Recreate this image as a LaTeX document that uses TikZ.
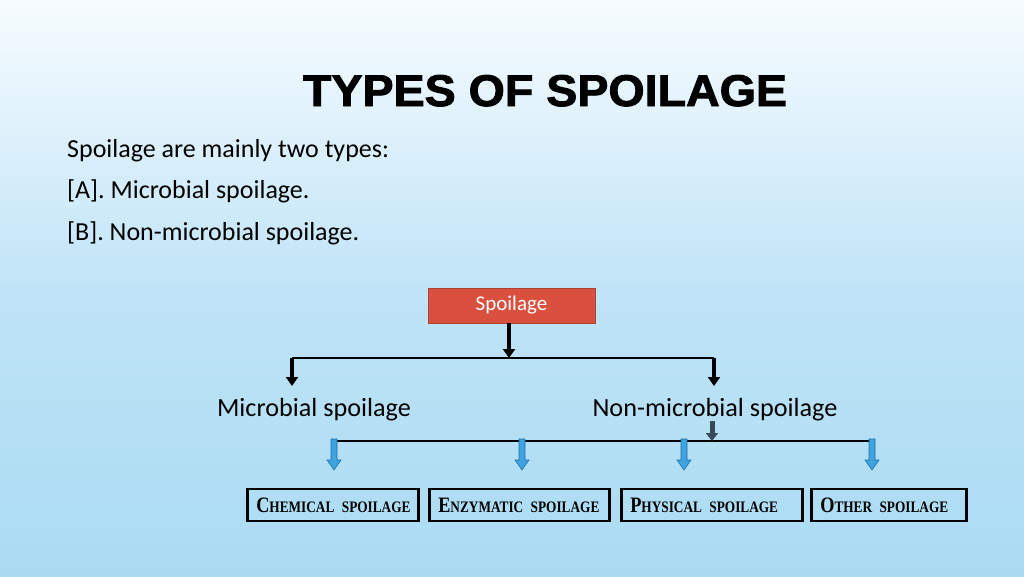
\documentclass[tikz,border=0pt]{standalone}
\usepackage{fontspec}
\setmainfont{Carlito}
\newfontfamily\titlefont{Liberation Sans}[UprightFont={* Bold}, UprightFeatures={FakeBold=2}]
\newfontfamily\boxfont{Liberation Serif}
\usetikzlibrary{arrows.meta}
\definecolor{bgtop}{HTML}{F7FCFF}
\definecolor{bgmid}{HTML}{C0E4F7}
\definecolor{bgbot}{HTML}{AADBF3}
\definecolor{spred}{HTML}{D9503F}
\definecolor{arrowblue}{HTML}{3FA3E0}
\definecolor{arrowedge}{HTML}{1E6FA8}
\definecolor{darkarrow}{HTML}{3A4A55}
\newcommand{\fsc}[3]{{\fontsize{22}{24}\selectfont #1}{\fontsize{16}{18}\selectfont #2\hspace{9pt}SPOILAGE}}
\tikzset{
  body/.style={anchor=base west, inner sep=0pt, font=\fontsize{26}{30}\selectfont, text=black},
  branch/.style={anchor=base, inner sep=0pt, font=\fontsize{26.2}{28}\selectfont, text=black},
  rootbox/.style={fill=spred, draw=spred!80!black, line width=0.5pt, minimum width=167pt, minimum height=35pt, text=white, font=\fontsize{21}{22}\selectfont, inner sep=0pt},
  leafbox/.style={draw=black, line width=2.6pt, minimum height=32pt, inner xsep=9pt, inner ysep=0pt, align=left, font=\boxfont\bfseries, anchor=west},
  blkline/.style={draw=black, line width=2pt},
  blkarrow/.style={draw=black, line width=4pt, -{Triangle[width=12pt,length=9pt]}},
  darkarr/.style={draw=darkarrow, line width=5pt, -{Triangle[width=12pt,length=8pt]}},
  bluearrow/.pic={\draw[fill=arrowblue, draw=arrowedge, line width=0.6pt] (-3,-2) -- (-3,19) -- (-7,19) -- (0,29) -- (7,19) -- (3,19) -- (3,-2) -- cycle;}
}
\begin{document}
\begin{tikzpicture}[x=1pt, y=-1pt]
\shade[top color=bgtop, bottom color=bgbot, middle color=bgmid] (0,0) rectangle (1024,576);
\useasboundingbox (0,0) rectangle (1024,576);

\node[anchor=base, inner sep=0pt] (title) at (545,106) {\resizebox{484pt}{31pt}{\titlefont TYPES OF SPOILAGE}};

\node[body] (l1) at (67,157) {Spoilage are mainly two types:};
\node[body] (l2) at (67,198) {[A]. Microbial spoilage.};
\node[body] (l3) at (67,240) {[B]. Non-microbial spoilage.};

\node[rootbox] (root) at (511.5,305.5) {Spoilage};

\coordinate (tj) at (509,358);
\coordinate (tl) at (292,358);
\coordinate (tr) at (714,358);
\coordinate (tla) at (292,386);
\coordinate (tra) at (714,386);
\draw[blkline] (tl) -- (tr);
\draw[blkarrow] (root.south -| tj) -- (tj);
\draw[blkarrow] (tl) -- (tla);
\draw[blkarrow] (tr) -- (tra);

\node[branch] (mic) at (314,416) {Microbial spoilage};
\node[branch] (non) at (715,416) {Non-microbial spoilage};

\coordinate (bj) at (712,441);
\coordinate (bl) at (334,441);
\coordinate (b2) at (522,441);
\coordinate (b3) at (684,441);
\coordinate (br) at (872,441);
\coordinate (ns) at (712,421);
\draw[blkline] (bl) -- (br);
\draw[darkarr] (ns) -- (bj);
\pic at (bl) {bluearrow};
\pic at (b2) {bluearrow};
\pic at (b3) {bluearrow};
\pic at (br) {bluearrow};

\node[leafbox, text width=153pt] (c1) at (246,505) {\scalebox{0.83}[1]{\fsc{C}{HEMICAL}{}}};
\node[leafbox, text width=162pt] (c2) at (428,505) {\scalebox{0.83}[1]{\fsc{E}{NZYMATIC}{}}};
\node[leafbox, text width=163pt] (c3) at (620,505) {\scalebox{0.83}[1]{\fsc{P}{HYSICAL}{}}};
\node[leafbox, text width=137pt] (c4) at (810,505) {\scalebox{0.83}[1]{\fsc{O}{THER}{}}};
\end{tikzpicture}
\end{document}
